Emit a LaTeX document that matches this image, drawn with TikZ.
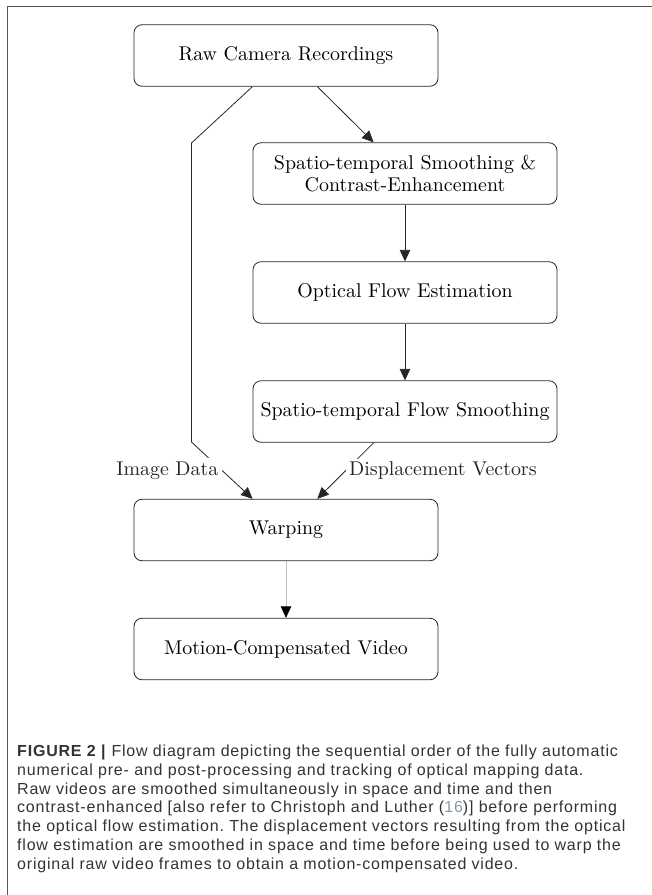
\documentclass[tikz,border=0pt]{standalone}
\usepackage{fontspec}
\usetikzlibrary{arrows.meta}
\newfontfamily\diagfont{lmroman10-regular.otf}
\newfontfamily\capfont[LetterSpace=5]{Liberation Sans}
\definecolor{citegray}{RGB}{140,150,160}
\definecolor{framegray}{RGB}{85,85,85}

\begin{document}
\begin{tikzpicture}[
	x=1pt, y=-1pt,
	box/.style={draw=black!85, line width=0.8pt, rounded corners=8pt, align=center, minimum width=304pt, minimum height=61.5pt, font=\diagfont\fontsize{19.9}{22.5}\selectfont},
	edge/.style={-{Triangle[length=11.5pt, width=10.5pt]}, line width=0.8pt, black!85},
	lbl/.style={fill=white, font=\diagfont\fontsize{19.9}{22.5}\selectfont},
]
\useasboundingbox (0,0) rectangle (652,895);

% Frame
\draw[framegray, line width=0.8pt] (7.3,895) -- (7.3,6) -- (652,6);

% Left column
\node[box] (raw) at (286,55.5) {Raw Camera Recordings};
\node[box] (warp) at (286,530) {Warping};
\node[box] (motion) at (286,649) {Motion-Compensated Video};

% Right column
\node[box] (smooth) at (405,173.5) {Spatio-temporal Smoothing \&\\Contrast-Enhancement};
\node[box] (optflow) at (405,292.5) {Optical Flow Estimation};
\node[box] (flowsmooth) at (405,411.5) {Spatio-temporal Flow Smoothing};

% Bends of the image data path
\coordinate (bendA) at (191.5,143);
\coordinate (bendB) at (191.5,442);

% Edges
\draw[edge] (raw) -- (smooth);
\draw[edge] (smooth) -- (optflow);
\draw[edge] (optflow) -- (flowsmooth);
\draw[edge] (raw) -- (bendA) -- (bendB) -- node[lbl, midway, left] {Image Data} (warp);
\draw[edge] (flowsmooth) -- node[lbl, midway, right] {Displacement Vectors} (warp);
\draw[edge, black!25, -{Triangle[length=11.5pt, width=10.5pt, color=black]}] (warp) -- (motion);

% Caption
\node[anchor=north west, inner sep=0pt, align=left, text=black!80, font=\capfont\fontsize{16}{18.7}\selectfont\frenchspacing] (caption) at (17,745) {\textbf{FIGURE 2 |} Flow diagram depicting the sequential order of the fully automatic\\
numerical pre- and post-processing and tracking of optical mapping data.\\
Raw videos are smoothed simultaneously in space and time and then\\
contrast-enhanced [also refer to Christoph and Luther ({\color{citegray}16})] before performing\\
the optical flow estimation. The displacement vectors resulting from the optical\\
flow estimation are smoothed in space and time before being used to warp the\\
original raw video frames to obtain a motion-compensated video.};

\end{tikzpicture}
\end{document}
